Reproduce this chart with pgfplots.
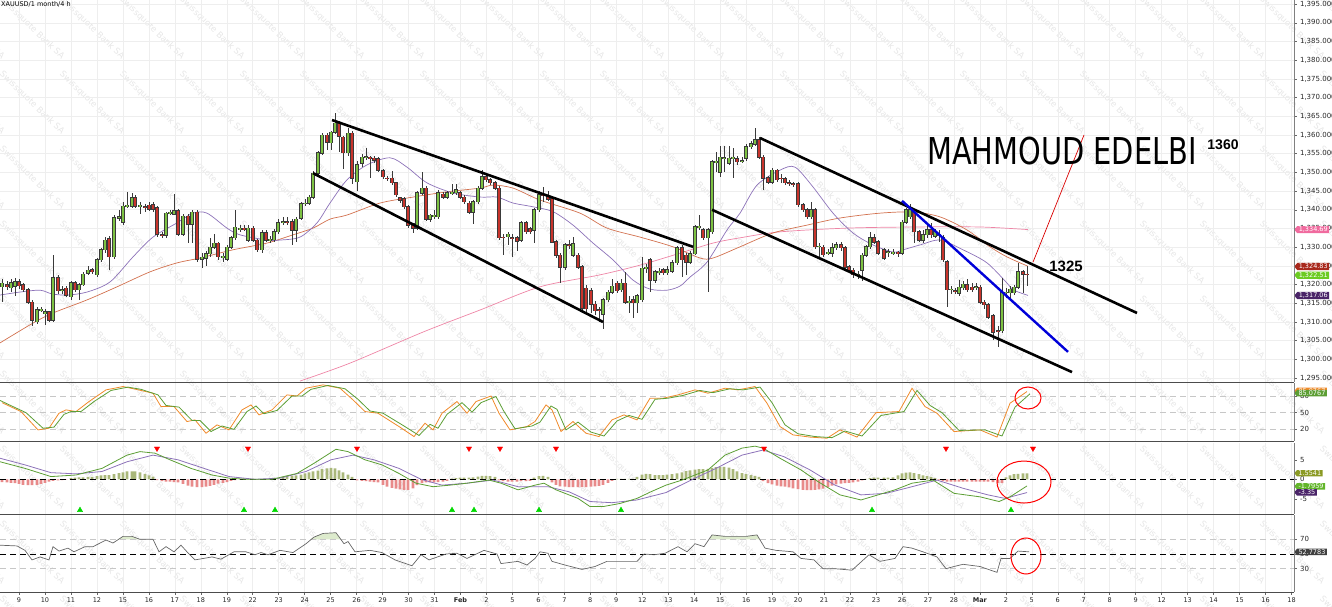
\documentclass[border=0pt]{standalone}
\usepackage{fontspec}
\setmainfont{DejaVu Sans}
\newfontfamily\lib{Liberation Sans}
\usepackage{graphicx}
\usepackage{pgfplots}
\usepackage{pgfplotstable}
\pgfplotsset{compat=1.18}
\usetikzlibrary{shapes.symbols}

\definecolor{cgreen}{HTML}{7DC243}
\definecolor{cred}{HTML}{C8342C}
\definecolor{coutline}{HTML}{3A3A3A}
\definecolor{mapurple}{HTML}{8C72B8}
\definecolor{mabrown}{HTML}{D2714F}
\definecolor{mapink}{HTML}{EE85A6}
\definecolor{tagpink}{HTML}{F06A9E}
\definecolor{tagred}{HTML}{A8281C}
\definecolor{taggreen}{HTML}{6CCB22}
\definecolor{tagpurple}{HTML}{4A2468}
\definecolor{stgreen}{HTML}{5C9E34}
\definecolor{storange}{HTML}{F08A2A}
\definecolor{histgreen}{HTML}{A9B77A}
\definecolor{histred}{HTML}{E88A8A}
\definecolor{gridc}{HTML}{EEEEEE}
\definecolor{wm}{HTML}{E6E6E6}
\definecolor{macdtagA}{HTML}{8B9A24}
\definecolor{macdtagB}{HTML}{62B52A}
\definecolor{rsifill}{HTML}{DDEBCD}

\pgfplotstableread{
x o h l c m
2 1319.4 1321.5 1315.3 1320.4 -0.7
7 1320.0 1321.0 1318.5 1319.5 -0.8
11 1319.2 1321.5 1318.0 1320.5 -0.9
15 1319.5 1321.8 1317.0 1320.7 -1.0
19 1320.7 1321.5 1318.8 1319.7 -1.2
23 1319.9 1320.5 1318.0 1318.6 -1.4
28 1318.6 1319.2 1314.8 1315.3 -1.5
32 1315.3 1315.8 1309.0 1310.5 -1.5
37 1310.0 1314.0 1309.5 1313.2 -1.4
41 1313.2 1314.0 1312.8 1313.4 -1.2
45 1312.2 1313.5 1309.2 1312.7 -0.9
49 1312.7 1313.0 1310.0 1310.5 -0.6
53 1310.5 1327.9 1310.0 1321.8 -0.4
58 1321.8 1322.5 1317.5 1318.3 -0.3
62 1318.3 1319.5 1317.5 1318.6 -0.2
66 1319.0 1319.5 1316.8 1317.2 -0.1
71 1316.7 1321.0 1316.0 1320.5 0.3
75 1320.5 1321.0 1318.0 1318.6 0.4
79 1318.6 1320.5 1316.0 1320.0 0.5
83 1320.0 1323.5 1319.5 1322.8 0.5
88 1323.1 1325.0 1322.5 1323.9 0.6
92 1323.9 1324.5 1322.8 1323.6 0.6
97 1322.6 1327.0 1322.0 1326.6 0.8
101 1326.6 1329.8 1326.0 1329.3 1.0
105 1329.3 1332.8 1328.5 1331.9 1.1
109 1332.2 1333.0 1323.9 1327.4 1.1
114 1327.4 1338.5 1326.8 1337.8 1.3
119 1337.8 1340.0 1337.0 1338.1 1.6
123 1336.7 1342.0 1336.0 1341.0 1.8
127 1341.0 1344.8 1340.5 1341.2 2.0
132 1341.0 1344.5 1340.5 1343.2 2.0
135 1343.2 1344.0 1340.5 1341.0 2.0
140 1341.0 1342.0 1339.0 1341.2 1.8
145 1340.8 1341.5 1339.5 1340.6 1.4
149 1341.2 1342.0 1339.8 1340.2 1.0
153 1341.3 1342.0 1339.5 1340.2 0.7
157 1340.5 1341.0 1332.8 1333.5 -0.2
162 1333.3 1334.0 1332.5 1333.2 -0.5
166 1333.2 1339.5 1332.5 1339.1 -0.6
170 1339.1 1340.0 1338.5 1339.4 -0.6
174 1338.8 1344.2 1338.5 1339.7 -0.7
178 1339.7 1340.2 1333.0 1333.5 -0.8
183 1333.5 1339.0 1333.0 1338.3 -1.2
188 1338.3 1338.8 1331.0 1336.2 -1.6
192 1336.2 1340.0 1331.0 1339.4 -1.9
197 1339.4 1340.0 1326.0 1326.8 -2.0
202 1326.8 1328.5 1324.5 1327.3 -2.0
206 1327.1 1329.0 1325.0 1328.3 -1.9
210 1328.3 1332.5 1327.5 1330.0 -1.7
214 1330.0 1333.5 1329.5 1331.0 -1.4
218 1331.0 1331.5 1326.5 1327.4 -1.1
223 1327.4 1328.5 1326.0 1327.6 -0.9
227 1326.8 1330.5 1326.2 1330.0 -0.7
231 1330.0 1333.0 1329.5 1332.5 -0.4
235 1332.5 1340.0 1332.0 1335.4 -0.2
240 1334.9 1336.0 1334.0 1335.1 0.1
244 1335.1 1336.0 1334.2 1334.8 0.15
248 1331.9 1335.8 1331.5 1335.1 0.15
253 1335.1 1335.7 1331.3 1331.9 0.1
257 1331.9 1332.3 1328.6 1329.3 -0.1
262 1329.3 1334.5 1328.5 1333.8 -0.15
266 1333.8 1334.5 1331.3 1331.9 -0.1
270 1331.9 1333.0 1331.0 1332.1 0.1
274 1332.0 1334.8 1331.5 1334.1 0.2
278 1334.1 1337.5 1333.5 1336.5 0.3
283 1336.7 1338.0 1336.0 1336.8 0.6
287 1336.8 1338.0 1336.0 1336.6 0.8
292 1336.8 1337.5 1330.5 1334.6 0.9
296 1334.6 1338.0 1331.5 1337.5 1.0
301 1337.8 1342.0 1337.3 1341.6 1.2
305 1341.6 1343.0 1341.0 1341.8 1.5
309 1341.8 1344.0 1341.3 1343.4 1.8
313 1343.4 1350.3 1343.0 1349.8 2.0
318 1349.8 1355.7 1349.3 1355.2 2.2
322 1355.2 1360.6 1354.6 1360.0 2.6
327 1360.0 1360.5 1356.0 1358.1 2.8
331 1357.9 1361.2 1356.0 1360.8 2.9
335 1360.8 1365.9 1360.3 1363.2 2.8
339 1363.2 1363.7 1355.5 1359.7 2.3
343 1359.4 1359.8 1351.0 1355.2 1.8
348 1355.2 1362.0 1354.5 1360.5 1.2
352 1360.5 1361.0 1347.0 1348.5 0.6
357 1347.5 1353.0 1345.0 1352.0 -0.3
362 1352.4 1355.0 1351.5 1354.1 -0.4
366 1354.1 1356.5 1353.3 1354.2 -0.5
370 1354.0 1354.5 1348.5 1353.8 -0.6
374 1353.8 1354.3 1352.6 1353.3 -0.7
378 1353.6 1354.0 1350.0 1350.6 -0.8
383 1350.4 1351.0 1348.3 1348.8 -1.4
387 1348.5 1349.0 1347.6 1348.3 -1.9
392 1348.5 1350.5 1346.5 1347.2 -2.2
396 1347.2 1347.5 1343.5 1344.0 -2.4
400 1343.2 1343.5 1341.8 1342.6 -2.6
404 1342.9 1343.3 1340.3 1340.8 -2.7
408 1340.8 1341.2 1335.2 1335.9 -2.7
413 1336.2 1336.5 1333.8 1335.1 -2.3
417 1335.1 1345.0 1334.5 1344.5 -1.5
422 1344.5 1350.0 1344.0 1345.8 -1.0
426 1345.8 1346.3 1337.0 1337.5 -0.8
430 1337.5 1339.0 1336.8 1338.6 -0.8
434 1338.3 1340.0 1337.5 1338.5 -0.8
438 1338.1 1345.3 1337.5 1344.5 -0.7
443 1344.2 1344.7 1342.8 1343.4 -0.6
447 1343.4 1345.0 1343.0 1344.5 -0.4
452 1344.5 1347.0 1344.0 1344.7 0.2
456 1344.5 1347.0 1344.0 1345.3 0.3
460 1344.5 1345.0 1343.0 1343.4 0.4
464 1343.4 1343.9 1341.5 1342.1 0.4
469 1341.8 1342.3 1338.8 1339.4 0.4
473 1339.4 1342.6 1336.2 1342.1 0.5
478 1342.1 1346.3 1341.6 1345.8 0.7
482 1345.8 1350.6 1345.3 1348.8 0.9
486 1348.8 1349.8 1347.5 1348.0 0.9
490 1348.0 1348.5 1346.7 1347.2 0.8
495 1347.2 1347.7 1345.2 1345.8 0.6
499 1345.8 1346.3 1332.0 1332.5 -0.3
503 1332.7 1333.5 1328.0 1332.5 -0.5
508 1332.8 1334.0 1330.5 1333.5 -0.6
512 1332.5 1333.5 1327.5 1332.3 -0.6
517 1332.5 1333.0 1329.0 1331.6 -0.6
521 1331.9 1337.0 1331.3 1336.5 -0.5
526 1336.5 1337.0 1333.5 1334.1 -0.5
530 1334.9 1335.3 1333.5 1334.1 -0.4
534 1334.6 1340.5 1331.0 1340.0 0.4
539 1340.0 1345.0 1339.5 1344.0 0.8
543 1344.0 1346.0 1342.0 1343.9 0.9
548 1343.7 1345.0 1342.4 1342.9 0.6
552 1342.9 1343.4 1331.0 1331.4 -0.8
556 1331.4 1332.0 1327.2 1327.9 -1.4
560 1327.9 1328.4 1320.5 1324.7 -1.8
565 1324.7 1331.2 1324.0 1330.6 -1.9
569 1330.6 1332.0 1329.5 1330.4 -2.0
573 1327.9 1332.7 1327.3 1330.9 -2.0
578 1327.9 1328.5 1324.2 1324.7 -2.0
582 1324.7 1325.2 1313.1 1313.7 -2.0
586 1319.0 1320.0 1312.8 1313.5 -2.0
591 1318.3 1319.0 1312.5 1314.8 -1.9
595 1314.8 1315.5 1311.8 1313.0 -1.8
599 1313.2 1314.0 1310.0 1313.0 -1.7
603 1312.0 1316.5 1308.0 1315.9 -1.4
608 1315.9 1318.6 1315.3 1318.0 -0.9
612 1318.0 1321.5 1317.5 1319.6 -0.4
617 1320.4 1321.0 1317.7 1318.3 0.1
621 1318.6 1321.5 1318.0 1320.4 0.1
625 1320.4 1323.5 1314.8 1315.3 0.1
629 1315.3 1317.0 1312.5 1315.5 0.1
633 1315.9 1317.0 1311.0 1315.1 0.1
637 1315.1 1317.5 1312.5 1317.0 0.6
642 1315.9 1327.4 1315.3 1324.4 1.2
646 1324.4 1325.5 1323.0 1324.6 1.4
650 1326.6 1327.0 1318.0 1321.2 1.3
655 1321.2 1324.0 1320.5 1323.4 1.1
659 1323.4 1324.5 1322.5 1323.6 1.1
663 1324.0 1324.5 1322.5 1323.2 1.1
667 1323.2 1325.0 1322.5 1324.0 1.2
672 1323.6 1326.5 1323.0 1325.8 1.3
677 1325.8 1330.3 1325.3 1329.8 1.5
682 1329.8 1330.5 1322.0 1326.6 1.8
686 1327.9 1328.5 1322.5 1326.0 2.1
690 1326.0 1329.0 1325.5 1328.3 2.3
695 1328.3 1336.0 1327.8 1335.4 2.5
699 1335.4 1338.5 1334.5 1335.6 2.6
703 1334.6 1335.0 1332.0 1332.5 2.6
708 1332.5 1335.2 1318.0 1334.6 2.7
712 1334.1 1353.3 1333.5 1352.8 2.9
716 1352.8 1355.4 1350.0 1353.0 3.1
720 1350.1 1357.0 1348.8 1354.1 3.2
724 1353.6 1357.0 1350.0 1353.9 3.2
729 1352.5 1357.0 1352.0 1353.8 3.0
733 1353.8 1356.5 1348.5 1354.0 2.6
737 1353.6 1354.5 1352.0 1352.8 2.0
742 1353.0 1354.0 1352.5 1353.1 1.6
746 1353.8 1357.5 1353.0 1356.8 1.3
751 1356.8 1358.5 1356.3 1357.6 1.1
755 1357.6 1361.8 1357.0 1358.7 0.9
759 1358.7 1359.5 1353.5 1354.1 0.6
763 1354.1 1354.6 1345.3 1348.5 -0.5
768 1348.5 1349.0 1346.8 1347.4 -1.0
772 1347.4 1351.2 1346.8 1350.6 -1.3
777 1350.6 1351.0 1347.5 1348.0 -1.6
781 1348.5 1349.5 1347.2 1348.3 -1.8
785 1348.3 1348.8 1346.7 1347.2 -1.9
789 1347.2 1348.0 1346.5 1347.0 -2.1
793 1347.0 1347.5 1346.2 1346.8 -2.3
798 1346.9 1347.4 1340.8 1341.3 -2.5
803 1341.3 1341.8 1339.4 1340.0 -2.7
807 1340.0 1340.5 1337.6 1338.1 -2.8
811 1338.1 1342.1 1337.5 1340.0 -2.8
815 1340.0 1340.5 1329.5 1330.1 -2.7
819 1330.1 1331.0 1327.5 1330.3 -2.6
823 1330.0 1330.5 1327.5 1328.0 -2.4
828 1328.4 1329.5 1327.8 1328.6 -2.0
832 1328.4 1331.0 1327.5 1329.8 -1.6
836 1329.8 1331.4 1329.2 1330.6 -1.3
841 1330.6 1331.3 1329.0 1329.8 -1.1
845 1329.8 1330.3 1324.2 1324.7 -1.0
849 1324.7 1325.2 1323.3 1323.9 -0.9
853 1323.9 1324.4 1321.8 1322.6 -0.8
858 1322.6 1323.5 1321.5 1322.8 -0.6
862 1323.9 1328.4 1321.0 1327.9 -0.3
866 1327.9 1330.6 1327.3 1330.1 0.1
870 1330.1 1334.0 1329.5 1332.5 0.3
874 1332.5 1333.5 1330.8 1331.4 0.4
878 1331.4 1332.0 1327.8 1328.4 0.4
884 1329.3 1329.8 1326.5 1327.1 0.4
888 1328.7 1329.5 1327.5 1328.8 0.4
893 1328.4 1329.5 1327.8 1328.6 0.5
898 1328.6 1329.0 1327.5 1328.4 1.0
902 1328.4 1337.2 1327.8 1336.7 1.5
906 1336.7 1340.5 1336.2 1340.0 1.7
910 1338.1 1341.5 1337.5 1340.0 1.8
914 1339.2 1339.7 1331.0 1334.1 1.6
919 1334.1 1334.6 1331.3 1331.9 1.3
923 1331.9 1334.5 1331.0 1333.3 1.0
927 1333.3 1336.0 1332.5 1334.6 0.8
931 1334.6 1336.5 1332.5 1333.3 0.6
935 1333.0 1335.0 1332.5 1334.1 0.3
939 1333.3 1334.5 1331.5 1333.4 -0.2
943 1332.7 1333.2 1326.0 1326.6 -0.5
947 1326.1 1326.6 1314.0 1318.6 -0.6
951 1318.6 1319.5 1317.5 1318.8 -0.6
955 1318.3 1319.0 1317.5 1318.1 -0.6
959 1317.7 1321.3 1317.0 1319.3 -0.6
963 1319.1 1321.0 1318.5 1320.1 -0.6
967 1319.9 1321.5 1318.0 1318.6 -0.6
972 1319.3 1320.5 1318.0 1318.6 -0.6
976 1319.3 1320.5 1318.5 1319.4 -0.6
980 1319.3 1319.8 1314.8 1315.3 -0.6
984 1315.3 1315.8 1313.5 1314.6 -0.6
988 1314.6 1315.0 1310.8 1311.3 -0.6
993 1311.6 1312.0 1305.2 1307.3 -0.7
998 1307.6 1309.0 1303.3 1307.4 -0.9
1002 1307.6 1321.8 1307.0 1317.8 -1.0
1006 1317.8 1319.0 1316.5 1318.0 0.5
1010 1317.8 1319.5 1315.8 1318.8 1.0
1014 1317.8 1320.0 1317.2 1319.3 1.3
1018 1319.3 1325.8 1318.8 1323.4 1.4
1023 1323.4 1324.0 1317.8 1322.8 1.5
1027 1322.8 1325.0 1319.5 1322.6 1.5
}\candles

\tikzset{
  tag/.style={signal, signal to=west, signal pointer angle=100, fill=#1, text=white,
    font=\fontsize{6.5}{7}\selectfont, inner xsep=1.5pt, inner ysep=0.8pt, anchor=west},
}

\pgfplotsset{
  /pgf/number format/assume math mode=true,
  panel/.style={
    scale only axis, width=1294pt, xmin=0, xmax=1294,
    axis line style={draw=none},
    xtick={19.0,45.0,70.9,96.9,122.9,148.9,174.8,200.8,226.8,252.7,278.7,304.7,330.6,356.6,382.6,408.6,434.5,460.5,486.5,512.4,538.4,564.4,590.3,616.3,642.3,668.3,694.2,720.2,746.2,772.1,798.1,824.1,850.0,876.0,902.0,928.0,953.9,979.9,1005.9,1031.8,1057.8,1083.8,1109.7,1135.7,1161.7,1187.7,1213.6,1239.6,1265.6,1291.5},
    xmajorgrids=true,
    grid style={draw=gridc, line width=0.6pt},
    ytick pos=right, xtick pos=bottom, tick align=outside,
    major tick length=2.5pt,
    tick style={draw=black!60, line width=0.5pt},
    ticklabel style={font=\fontsize{7}{8}\selectfont, text=black!85},
    clip mode=individual,
    after end axis/.code={
      \draw[black!70, line width=0.8pt] (rel axis cs:0,0) -- (rel axis cs:1,0);
      \draw[black!50, line width=0.8pt] (rel axis cs:1,0) -- (rel axis cs:1,1);
    },
  },
  upper/.style={xticklabels={}, xmajorticks=false},
}

\begin{document}
\begin{tikzpicture}
% watermark
\foreach \i in {-1,...,22}{
  \foreach \j in {0,...,8}{
    \node[rotate=-44, text=wm, font=\fontsize{8.5}{9}\selectfont] at ({(32+60*\i)*1pt}, {(579-75*\j)*1pt}) {Swissquote Bank SA};
  }
}

% ---------------- main price panel ----------------
\begin{axis}[panel, upper, at={(0pt,225pt)}, anchor=south west, height=382pt,
  ymin=1293.95, ymax=1396.1, ytick={1295,1300,...,1395}, ymajorgrids=true,
  scaled y ticks=false,
  yticklabel={\pgfmathprintnumber[fixed,fixed zerofill,precision=3,1000 sep={,}]{\tick}}]

% moving averages
\addplot[mapink, line width=0.7pt, smooth] coordinates {
(300,1294.2) (350,1299.0) (423,1307.3) (480,1313.2) (540,1319.4) (600,1322.6) (640,1325.2) (680,1328.4) (713,1331.1) (740,1332.5) (780,1334.1) (847,1335.1) (913,1335.4) (980,1335.4) (1028,1334.7)};
\addplot[mabrown, line width=0.7pt, smooth] coordinates {
(0,1304.4) (33,1309.7) (53,1312.4) (87,1315.9) (117,1319.4) (150,1323.4) (177,1325.8) (200,1327.1) (233,1329.3) (267,1331.1) (293,1333.3) (313,1335.1) (330,1337.5) (347,1338.6) (380,1341.8) (413,1343.4) (447,1344.8) (480,1345.8) (493,1346.6) (513,1345.8) (540,1342.6) (580,1339.1) (607,1335.1) (640,1332.7) (673,1330.1) (700,1327.1) (713,1327.1) (740,1330.1) (773,1333.8) (807,1335.9) (840,1337.8) (880,1339.1) (913,1339.4) (940,1338.1) (967,1334.6) (990,1330.1) (1007,1327.4) (1028,1324.9)};
\addplot[mapurple, line width=0.7pt, smooth] coordinates {
(0,1317.2) (20,1318.0) (40,1318.5) (52,1317.5) (67,1317.2) (87,1318.0) (110,1320.7) (133,1327.4) (153,1332.7) (177,1336.5) (193,1339.1) (207,1339.1) (227,1335.1) (240,1333.3) (267,1331.9) (280,1331.9) (300,1332.7) (317,1336.5) (330,1341.8) (347,1348.0) (367,1352.0) (390,1353.9) (407,1351.4) (427,1347.2) (453,1344.5) (480,1343.4) (497,1343.4) (513,1341.8) (533,1340.8) (553,1339.5) (573,1335.9) (593,1331.1) (613,1326.6) (633,1321.2) (650,1318.8) (667,1318.5) (680,1319.6) (690,1322.0) (707,1326.0) (727,1334.6) (740,1339.1) (757,1346.6) (780,1350.6) (795,1351.4) (813,1346.1) (833,1339.1) (853,1333.8) (873,1330.6) (893,1328.7) (903,1329.3) (920,1330.6) (940,1331.9) (963,1329.3) (987,1325.8) (1007,1320.4) (1013,1318.6) (1028,1317.1)};

% candles: wicks
\addplot[draw=none, mark=none, error bars/.cd, y dir=both, y explicit, error mark=none,
  error bar style={draw=coutline, line width=0.8pt}]
  table[x=x, y expr={(\thisrow{h}+\thisrow{l})/2}, y error expr={(\thisrow{h}-\thisrow{l})/2}] {\candles};
% candles: body outlines
\addplot[draw=none, mark=none, error bars/.cd, y dir=both, y explicit, error mark=none,
  error bar style={draw=coutline, line width=3.8pt}]
  table[x=x, y expr={(\thisrow{o}+\thisrow{c})/2}, y error expr={abs(\thisrow{c}-\thisrow{o})/2+0.14}] {\candles};
% green bodies
\addplot[draw=none, mark=none, restrict y to domain=1200:1500, error bars/.cd, y dir=both, y explicit, error mark=none,
  error bar style={draw=cgreen, line width=2.6pt}]
  table[x=x, y expr={(\thisrow{c}>=\thisrow{o}) ? ((\thisrow{o}+\thisrow{c})/2) : 0}, y error expr={abs(\thisrow{c}-\thisrow{o})/2}] {\candles};
% red bodies
\addplot[draw=none, mark=none, restrict y to domain=1200:1500, error bars/.cd, y dir=both, y explicit, error mark=none,
  error bar style={draw=cred, line width=2.6pt}]
  table[x=x, y expr={(\thisrow{c}<\thisrow{o}) ? ((\thisrow{o}+\thisrow{c})/2) : 0}, y error expr={abs(\thisrow{c}-\thisrow{o})/2}] {\candles};

% channels and trend lines
\addplot[black, line width=2.6pt] coordinates {(332,1364.0) (693,1330.1)};
\addplot[black, line width=2.6pt] coordinates {(313,1349.8) (603,1310.0)};
\addplot[black, line width=2.6pt] coordinates {(760,1359.2) (1137,1312.4)};
\addplot[black, line width=2.6pt] coordinates {(712,1340.0) (1072,1296.6)};
\addplot[blue!85!black, line width=2.4pt] coordinates {(902,1342.4) (1068,1302.0)};
\addplot[red!85!black, line width=0.7pt] coordinates {(1033,1326.0) (1084,1360.0)};

\node[font=\lib\bfseries\fontsize{15}{16}\selectfont] at (axis cs:1066,1325.0) {1325};
\node[font=\lib\bfseries\fontsize{14}{15}\selectfont] at (axis cs:1223,1357.3) {1360};
\node at (axis cs:1062,1355.7) {\scalebox{0.78}[1]{\fontsize{37}{40}\selectfont MAHMOUD EDELBI}};
\node[anchor=north west, inner sep=0pt, font=\fontsize{6.5}{7}\selectfont, xshift=1pt, yshift=-1.5pt] at (rel axis cs:0,1) {XAUUSD/1 month/4 h};

\node[tag=tagpink] at (axis cs:1294,1334.69) {1,334.69};
\node[tag=tagred] at (axis cs:1294,1324.83) {1,324.83};
\node[tag=taggreen] at (axis cs:1294,1322.51) {1,322.51};
\node[tag=tagpurple] at (axis cs:1294,1317.06) {1,317.06};
\end{axis}

% ---------------- stochastic ----------------
\begin{axis}[panel, upper, at={(0pt,166pt)}, anchor=south west, height=58pt,
  ymin=-1.0, ymax=103.4, ytick={20,50,80}]
\addplot[black!22, dashed, dash pattern=on 6pt off 4pt, line width=0.9pt] coordinates {(0,80) (1294,80)};
\addplot[black!22, dashed, dash pattern=on 6pt off 4pt, line width=0.9pt] coordinates {(0,50) (1294,50)};
\addplot[black!22, dashed, dash pattern=on 6pt off 4pt, line width=0.9pt] coordinates {(0,20) (1294,20)};
\addplot[storange, line width=0.8pt] coordinates {
(2,68) (21,52) (38,19) (49,22) (59,49) (66,55) (76,52) (89,70) (106,91) (123,97) (136,92) (153,85) (161,61) (174,61) (187,34) (195,37) (206,13) (217,28) (229,19) (242,55) (251,64) (259,46) (272,55) (287,82) (297,80) (306,94) (323,100) (340,94) (353,73) (365,52) (378,49) (399,25) (414,7) (425,31) (433,19) (442,49) (457,70) (467,49) (476,70) (491,80) (499,49) (510,19) (527,25) (535,34) (546,64) (552,55) (561,16) (573,34) (586,13) (599,7) (612,37) (624,46) (637,37) (650,76) (663,76) (678,82) (695,91) (708,85) (725,94) (738,91) (755,97) (767,67) (780,25) (793,10) (810,6) (827,4) (840,19) (857,6) (876,50) (899,52) (912,94) (925,61) (937,49) (954,16) (980,19) (997,6) (1010,67) (1027,88)};
\addplot[stgreen, line width=0.8pt] coordinates {
(0,72) (7,66) (26,50) (43,22) (54,24) (64,47) (71,52) (81,52) (94,70) (111,90) (128,96) (141,92) (158,82) (166,63) (179,60) (192,36) (200,36) (211,16) (222,26) (234,20) (247,52) (256,62) (264,48) (277,54) (292,80) (302,80) (311,92) (328,99) (345,93) (358,74) (370,53) (383,49) (404,26) (419,9) (430,29) (438,22) (447,47) (462,68) (472,51) (481,68) (496,79) (504,52) (515,21) (532,26) (540,33) (551,62) (557,56) (566,19) (578,33) (591,15) (604,8) (617,35) (629,45) (642,38) (655,74) (668,76) (683,81) (700,90) (713,86) (730,93) (743,91) (760,96) (772,68) (785,28) (798,12) (815,7) (832,5) (845,17) (862,8) (881,45) (904,52) (917,90) (930,63) (942,50) (959,18) (985,19) (1002,8) (1015,60) (1030,84)};
\draw[red, line width=1pt] (axis cs:1028,76.4) ellipse [x radius=13pt, y radius=11pt];
\node[tag=storange] at (axis cs:1294,89) {85.0767};
\node[tag=stgreen] at (axis cs:1294,85.08) {85.0767};
\end{axis}

% ---------------- MACD ----------------
\begin{axis}[panel, upper, at={(0pt,93pt)}, anchor=south west, height=71pt,
  ymin=-8.9, ymax=9.31, ytick={-5,0,5}]
\addplot[ybar, bar width=2.8pt, fill=histgreen, draw=none, restrict y to domain=0:20] table[x=x, y=m] {\candles};
\addplot[ybar, bar width=2.8pt, fill=histred, draw=none, restrict y to domain=-20:0] table[x=x, y=m] {\candles};
\addplot[black, dashed, dash pattern=on 6pt off 4pt, line width=0.9pt] coordinates {(0,0) (1294,0)};
\addplot[mapurple, line width=0.8pt] coordinates {
(0,5.4) (25,3.7) (51,1.7) (76,1.4) (102,2.0) (127,4.5) (153,6.2) (178,5.0) (204,2.8) (229,0.7) (255,0) (280,0.3) (306,2.0) (331,5.0) (353,6.2) (374,5.0) (399,2.8) (421,0) (442,-1.5) (467,-1.0) (493,-0.2) (518,-1.9) (548,-1.9) (569,-3.2) (590,-5.7) (612,-6.0) (637,-5.3) (666,-3.4) (691,-0.2) (716,2.8) (742,6.2) (763,7.5) (784,5.8) (810,2.4) (835,-1.5) (861,-4.0) (886,-3.6) (912,-1.9) (937,-0.2) (963,-2.3) (988,-4.0) (1005,-4.9) (1027,-3.4)};
\addplot[stgreen, line width=0.8pt] coordinates {
(0,4.5) (25,2.8) (51,0.7) (76,1.1) (102,2.8) (127,6.2) (140,7.1) (155,6.7) (170,5.0) (191,2.8) (212,1.1) (229,0.3) (246,0) (272,0) (297,1.5) (314,4.1) (336,7.7) (348,7.1) (365,5.0) (382,3.7) (399,1.5) (416,-1.0) (433,-1.9) (450,-1.5) (467,-1.0) (489,-0.2) (501,-1.0) (518,-2.7) (535,-1.5) (544,-1.0) (556,-2.7) (578,-4.9) (590,-7.0) (603,-7.0) (620,-6.2) (637,-4.9) (650,-3.3) (666,-1.5) (682,-0.2) (708,2.4) (725,6.2) (742,8.0) (755,8.5) (763,8.0) (780,5.4) (801,2.4) (818,-0.6) (840,-4.0) (861,-5.3) (878,-4.0) (895,-2.7) (912,-1.0) (933,-0.2) (954,-3.6) (980,-4.5) (999,-5.7) (1010,-4.5) (1027,-1.7)};
\addplot[only marks, mark=triangle*, mark size=3pt, mark options={rotate=180, fill=red, draw=red}] coordinates {
(157,7.9) (248,7.9) (357,7.9) (469,7.9) (500,7.9) (556,7.9) (764,7.9) (946,7.9) (1033,7.9)};
\addplot[only marks, mark=triangle*, mark size=3pt, mark options={fill=green!85!black, draw=green!85!black}] coordinates {
(80,-7.9) (244,-7.9) (275,-7.9) (452,-7.9) (474,-7.9) (539,-7.9) (621,-7.9) (872,-7.9) (1011,-7.9)};
\draw[red, line width=1pt] (axis cs:1024,-0.7) ellipse [x radius=27pt, y radius=21pt];
\node[tag=macdtagA] at (axis cs:1294,1.5541) {1.5541};
\node[tag=macdtagB] at (axis cs:1294,-1.7959) {-1.7959};
\node[tag=tagpurple] at (axis cs:1294,-3.35) {-3.35};
\end{axis}

% ---------------- RSI ----------------
\begin{axis}[panel, at={(0pt,15pt)}, anchor=south west, height=77pt,
  ymin=-1.7, ymax=103.1, ytick={30,50,70},
  xticklabels={9,10,11,12,15,16,17,18,19,22,23,24,25,26,29,30,31,\textbf{Feb},2,5,6,7,8,9,12,13,14,15,16,19,20,21,22,23,26,27,28,\textbf{Mar},2,5,6,7,8,9,12,13,14,15,16,18},
  xticklabel style={font=\fontsize{6.5}{7}\selectfont}]
\addplot[fill=rsifill, draw=none] coordinates {(118,70) (123,74) (132,74) (140,70)} -- cycle;
\addplot[fill=rsifill, draw=none] coordinates {(310,70) (314,73) (323,78) (336,79) (341,70)} -- cycle;
\addplot[fill=rsifill, draw=none] coordinates {(709,70) (712,76) (725,74) (746,74) (757,76) (760,70)} -- cycle;
\addplot[black!22, dashed, dash pattern=on 6pt off 4pt, line width=0.9pt] coordinates {(0,70) (1294,70)};
\addplot[black!22, dashed, dash pattern=on 6pt off 4pt, line width=0.9pt] coordinates {(0,30) (1294,30)};
\addplot[black, dashed, dash pattern=on 6pt off 4pt, line width=0.9pt] coordinates {(0,50) (1294,50)};
\addplot[black!60, line width=0.7pt] coordinates {
(0,62) (17,61) (25,55) (32,42) (40,46) (49,42) (53,60) (59,54) (68,58) (74,53) (85,60) (93,60) (106,69) (113,65) (123,74) (132,74) (140,70) (153,70) (159,53) (166,60) (174,53) (181,62) (187,53) (195,42) (212,46) (221,43) (234,53) (246,53) (255,49) (261,52) (268,49) (280,55) (293,52) (306,64) (314,73) (323,78) (336,79) (344,64) (348,67) (355,53) (370,55) (382,52) (395,42) (412,34) (421,49) (429,42) (446,50) (457,51) (467,44) (484,55) (497,50) (501,37) (518,40) (527,35) (535,44) (540,53) (548,51) (552,40) (565,35) (582,29) (595,33) (607,40) (624,40) (637,40) (644,50) (654,49) (665,51) (678,60) (687,53) (695,64) (704,60) (712,76) (725,74) (746,74) (757,76) (765,58) (776,55) (793,53) (801,44) (814,42) (823,30) (835,30) (852,28) (869,49) (880,40) (895,44) (903,60) (912,58) (925,52) (937,46) (946,30) (954,33) (963,36) (980,33) (997,25) (1001,44) (1010,44) (1018,54) (1029,53)};
\draw[red, line width=1pt] (axis cs:1026,47.3) ellipse [x radius=15pt, y radius=18pt];
\node[tag=black!75] at (axis cs:1294,52.78) {52.7783};
\end{axis}

\pgfresetboundingbox
\path[use as bounding box] (0,0) rectangle (1332pt,607pt);
\end{tikzpicture}
\end{document}
